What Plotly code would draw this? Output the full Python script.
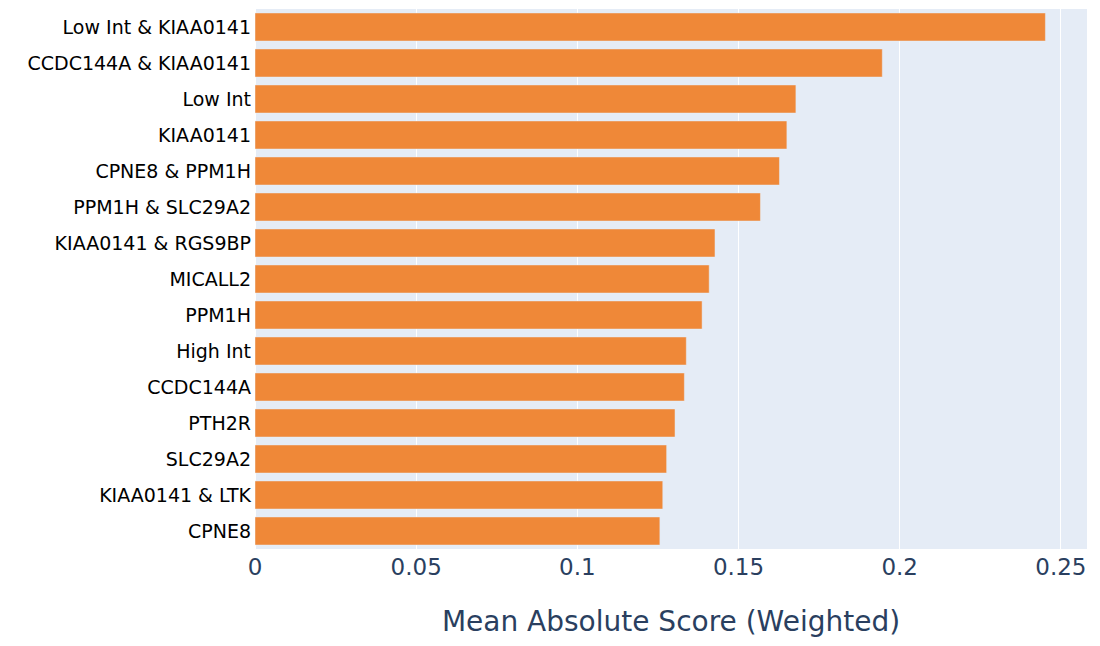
import plotly.graph_objects as go

features = [
    "Low Int & KIAA0141", "CCDC144A & KIAA0141", "Low Int", "KIAA0141",
    "CPNE8 & PPM1H", "PPM1H & SLC29A2", "KIAA0141 & RGS9BP", "MICALL2",
    "PPM1H", "High Int", "CCDC144A", "PTH2R", "SLC29A2", "KIAA0141 & LTK", "CPNE8",
]
scores = [
    0.2452, 0.1946, 0.1678, 0.1650, 0.1627, 0.1568, 0.1427, 0.1409,
    0.1387, 0.1338, 0.1332, 0.1303, 0.1277, 0.1265, 0.1256,
]

fig = go.Figure(
    go.Bar(
        x=scores[::-1],
        y=features[::-1],
        orientation="h",
        marker=dict(color="#EF8838"),
    )
)

fig.update_layout(
    template="plotly",
    margin=dict(l=247, r=5, t=1, b=89),
    font=dict(family="DejaVu Sans, Verdana, sans-serif"),
    showlegend=False,
    bargap=0.22,
)
fig.update_xaxes(
    title=dict(text="Mean Absolute Score (Weighted)", font=dict(size=28), standoff=32),
    tickfont=dict(size=23),
    ticklabelstandoff=2,
    dtick=0.05,
    automargin=False,
)
fig.update_yaxes(
    tickfont=dict(size=19, color="black"),
    ticklabelstandoff=3,
    automargin=False,
)

fig.write_html("out.html")
